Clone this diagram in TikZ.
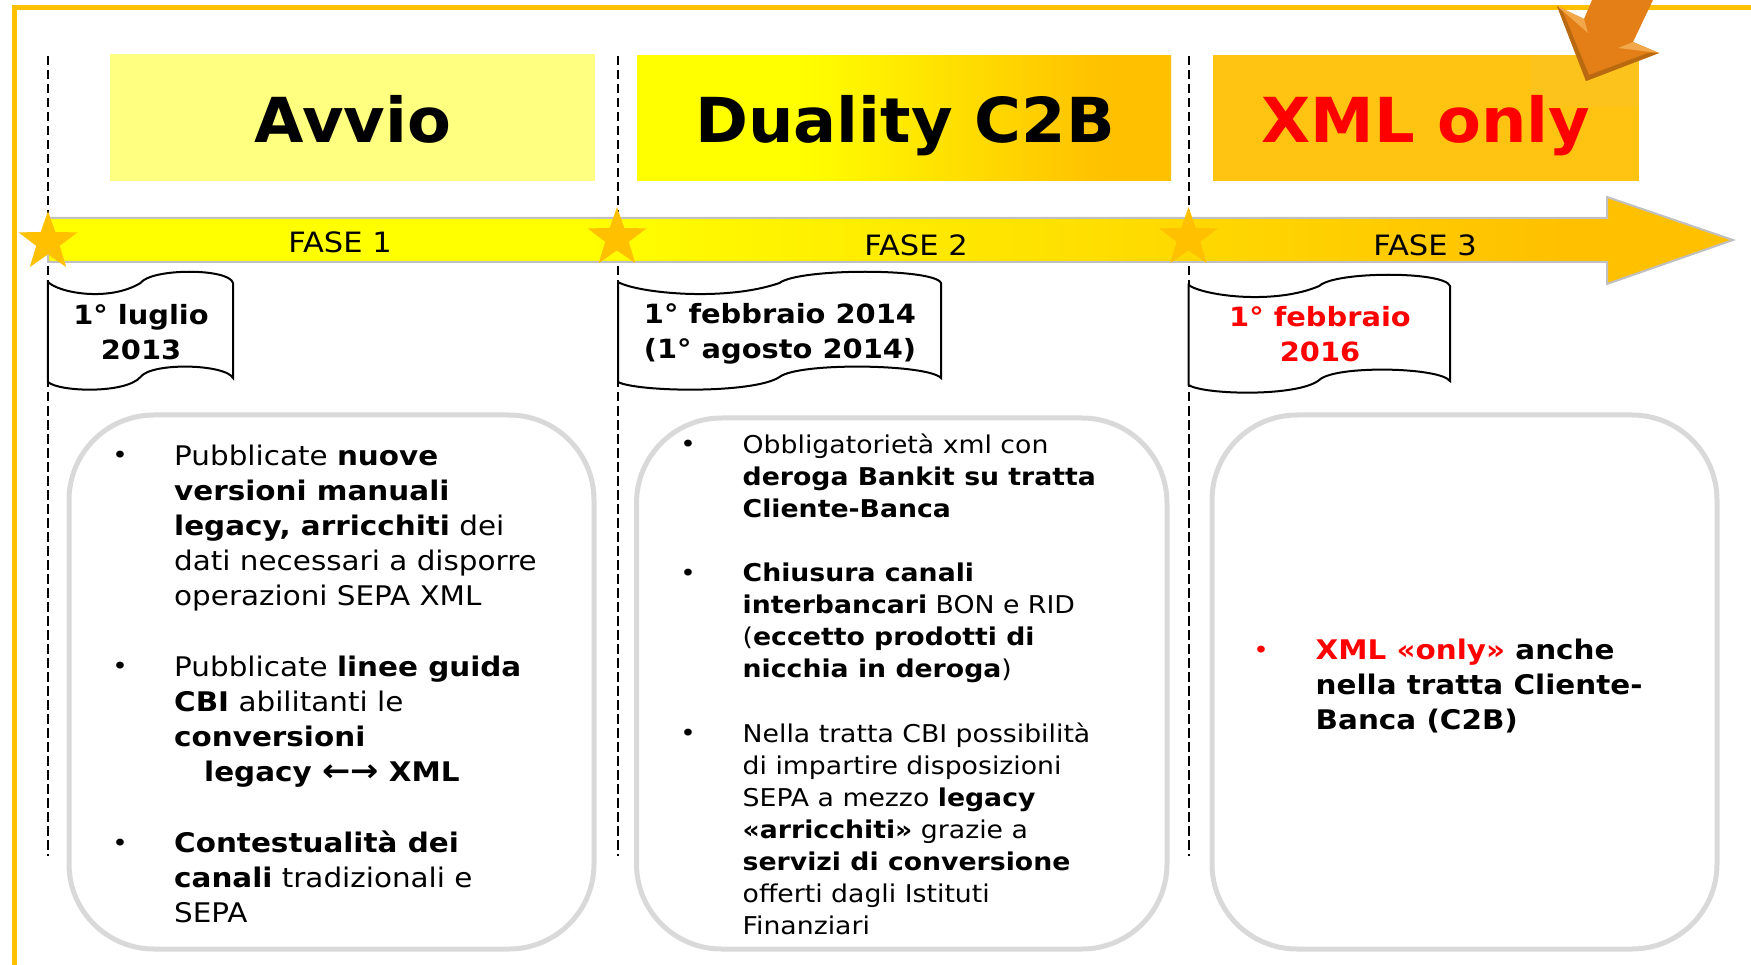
\documentclass[tikz,border=0pt]{standalone}
\usepackage{fontspec}
\setmainfont[FakeStretch=1.09]{DejaVu Sans}
\newfontfamily\headfont[FakeStretch=1.03]{DejaVu Sans}
\usetikzlibrary{shapes.geometric}
\definecolor{gold}{HTML}{FFC000}
\definecolor{pale}{HTML}{FFFF80}
\definecolor{xmlfill}{HTML}{FFC312}
\definecolor{xmlpatch}{HTML}{FCC31C}
\definecolor{bandline}{HTML}{C0C0C0}
\definecolor{boxline}{HTML}{D9D9D9}
\definecolor{arrowbody}{HTML}{E37F16}
\definecolor{arrowlight}{HTML}{F2A84A}
\definecolor{arrowdark}{HTML}{B9690F}
\pgfdeclarehorizontalshading{bandshade}{100bp}{color(0bp)=(yellow); color(41bp)=(yellow); color(70bp)=(gold); color(100bp)=(gold)}
\pgfdeclarehorizontalshading{dualshade}{100bp}{color(0bp)=(yellow); color(40bp)=(yellow); color(69bp)=(gold); color(100bp)=(gold)}
\tikzset{
  frameline/.style={draw=gold,line width=5pt},
  phaseline/.style={draw=black,line width=1.3pt,dash pattern=on 9.5pt off 4.5pt},
  headtext/.style={inner sep=0pt,anchor=base,font=\headfont\fontsize{62}{70}\selectfont\bfseries},
  startext/.style={star,star points=5,star point ratio=2.5,fill=gold,draw=none,inner sep=0pt,outer sep=0pt,minimum size=62pt},
  fase/.style={inner sep=0pt,font=\fontsize{28}{30}\selectfont},
  flagline/.style={draw=black,line width=2pt,fill=white},
  flagtext/.style={inner sep=0pt,align=center,font=\fontsize{26.5}{35}\selectfont\bfseries},
  roundbox/.style={draw=boxline,line width=5pt,rounded corners=85pt,fill=white},
  bigtext/.style={inner sep=0pt,anchor=north west,align=left,font=\fontsize{27}{35}\selectfont},
  midtext/.style={inner sep=0pt,anchor=north west,align=left,font=\fontsize{24.5}{32}\selectfont},
  bulletmark/.style={inner sep=0pt,font=\fontsize{24}{30}\selectfont}
}
\newcommand{\flagshape}[4]{% x, y, width, height
  \draw[flagline,xscale=#3,yscale=1] (#1/#3,#2)
    .. controls (#1/#3+.06,#2+11) and (#1/#3+.33,#2+20) .. (#1/#3+.50,#2+1)
    .. controls (#1/#3+.56,#2-14) and (#1/#3+.98,#2-14) .. (#1/#3+1,#2+1)
    -- (#1/#3+1,#2+#4-4)
    .. controls (#1/#3+.96,#2+#4-18) and (#1/#3+.56,#2+#4-20) .. (#1/#3+.50,#2+#4-5)
    .. controls (#1/#3+.42,#2+#4+12) and (#1/#3+.06,#2+#4+10) .. (#1/#3,#2+#4)
    -- cycle;
}
\begin{document}
\begin{tikzpicture}[x=1pt,y=-1pt]
\useasboundingbox (0,0) rectangle (1751,965);
% frame
\coordinate (fa) at (14.5,965);
\coordinate (fb) at (14.5,8);
\coordinate (fc) at (1751,8);
\draw[frameline] (fa) -- (fb) -- (fc);
% phase lines
\foreach \n/\x in {a/48,b/618,c/1189}{
  \coordinate (t\n) at (\x,56);
  \coordinate (u\n) at (\x,856);
  \draw[phaseline] (t\n) -- (u\n);
}
% heading boxes
\fill[pale] (110,54) rectangle (595,181);
\shade[shading=dualshade] (637,55.5) rectangle (1171,181);
\fill[xmlfill] (1212.5,55) rectangle (1639,181);
\fill[xmlpatch] (1531,55) rectangle (1639,107);
\node[headtext] (h1) at (353,143) {Avvio};
\node[headtext] (h2) at (905,143) {Duality C2B};
\node[headtext,text=red] (h3) at (1426,143) {XML only};
% orange arrow
\fill[arrowbody] (1592,0) -- (1653,0) -- (1633,42) -- (1659,53) -- (1586,81) -- (1557,6) -- (1584,19) -- cycle;
\fill[arrowlight] (1557,6) -- (1584,19) -- (1588,33) -- cycle;
\fill[arrowlight] (1659,53) -- (1633,42) -- (1618,48) -- cycle;
\fill[arrowdark] (1557,6) -- (1586,81) -- (1589,75) -- (1563,12) -- cycle;
\fill[arrowdark] (1659,53) -- (1586,81) -- (1589,75) -- (1648,53) -- cycle;
% band arrow
\path[draw=bandline,line width=2pt,shading=bandshade]
  (48,218) -- (1607,218) -- (1607,197) -- (1733,240) -- (1607,284) -- (1607,262) -- (48,262) -- cycle;
\node[fase] (f1) at (340,242) {FASE 1};
\node[fase] (f2) at (916,245) {FASE 2};
\node[fase] (f3) at (1425,245) {FASE 3};
% stars
\node[startext] (s1) at (48,242) {};
\node[startext] (s2) at (617,238) {};
\node[startext] (s3) at (1188.5,238) {};
% date flags
\flagshape{48}{282}{185}{100}
\flagshape{618}{282}{323}{100}
\flagshape{1188.5}{285}{261.5}{100}
\node[flagtext] (d1) at (141,332) {1° luglio\\2013};
\node[flagtext] (d2) at (780,333.5) {1° febbraio 2014\\(1° agosto 2014)};
\node[flagtext,text=red] (d3) at (1320,334) {1° febbraio\\2016};
% content boxes
\draw[roundbox] (69,415) rectangle (594,949);
\draw[roundbox] (636.5,418) rectangle (1167,949);
\draw[roundbox] (1212,415) rectangle (1717,949);
% box 1
\node[bulletmark] (b11) at (120,457) {•};
\node[bigtext] (t11) at (174,444.5) {Pubblicate \textbf{nuove}\\\textbf{versioni manuali}\\\textbf{legacy, arricchiti} dei\\dati necessari a disporre\\operazioni SEPA XML};
\node[bulletmark] (b12) at (120,668) {•};
\node[bigtext] (t12) at (174,655.5) {Pubblicate \textbf{linee guida}\\\textbf{CBI} abilitanti le\\\textbf{conversioni}\\\hspace*{30pt}\textbf{legacy {\fontsize{31}{35}\selectfont ←→} XML}};
\node[bulletmark] (b13) at (120,845) {•};
\node[bigtext] (t13) at (174,830.5) {\textbf{Contestualità dei}\\\textbf{canali} tradizionali e\\SEPA};
% box 2
\node[bulletmark] (b21) at (688,446) {•};
\node[midtext] (t21) at (742.5,434) {Obbligatorietà xml con\\\textbf{deroga Bankit su tratta}\\\textbf{Cliente-Banca}};
\node[bulletmark] (b22) at (688,575) {•};
\node[midtext] (t22) at (742.5,563) {\textbf{Chiusura canali}\\\textbf{interbancari} BON e RID\\(\textbf{eccetto prodotti di}\\\textbf{nicchia in deroga})};
\node[bulletmark] (b23) at (688,735) {•};
\node[midtext] (t23) at (742.5,722.5) {Nella tratta CBI possibilità\\di impartire disposizioni\\SEPA a mezzo \textbf{legacy}\\\textbf{«arricchiti»} grazie a\\\textbf{servizi di conversione}\\offerti dagli Istituti\\Finanziari};
% box 3
\node[bulletmark,text=red] (b31) at (1261,652) {•};
\node[bigtext] (t31) at (1315.5,638.5) {\textbf{\textcolor{red}{XML «only»} anche}\\\textbf{nella tratta Cliente-}\\\textbf{Banca (C2B)}};
\end{tikzpicture}
\end{document}
